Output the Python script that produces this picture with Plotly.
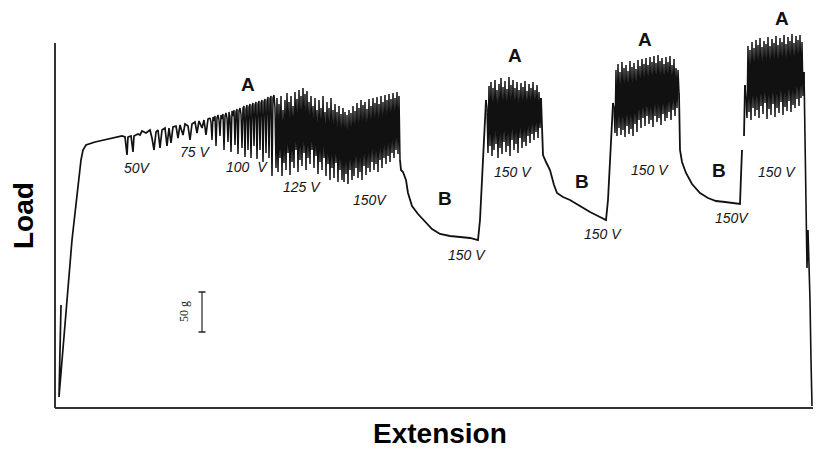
import plotly.graph_objects as go

# ---------------- data (extension, load) in arbitrary chart units ----------------
# initial loading and the 50 V - 75 V region (irregular sampling)
ext_start = [6, 4, 17, 22, 24, 26, 28, 31, 40, 55, 67,
             70, 72, 73, 76, 78, 79, 83, 85, 87, 91, 95, 97, 99, 101, 103, 105, 107, 110, 112, 114,
             116, 118, 121, 123, 125, 128, 130, 133, 135, 137, 140, 142, 144, 147, 149, 151, 153, 155]
load_start = [103, 11, 168, 213, 228, 248, 258, 263, 266, 269, 272,
              271, 253, 271, 272, 256, 272, 274, 273, 277, 275, 278, 270, 258, 276, 278, 260, 278, 280, 262, 280,
              265, 281, 282, 270, 283, 273, 284, 282, 268, 284, 286, 275, 287, 280, 288, 273, 289, 290]

# dense oscillation, one reading per extension unit, starting at extension 155
load_100v = [290, 286, 268, 291, 287, 292, 262, 290, 293, 288,
             272, 293, 289, 294, 258, 292, 295, 290, 266, 296,
             291, 256, 297, 292, 298, 263, 296, 299, 254, 297,
             300, 294, 260, 300, 302, 251, 299, 303, 258, 301,
             304, 250, 302, 305, 262, 303, 306, 249, 304, 307,
             258, 305, 308, 246, 306, 309, 255, 307, 311, 250,
             309, 312, 232, 310, 313]
load_125v = [300, 240, 310, 236, 304, 250, 312, 232, 298, 245,
             308, 238, 315, 255, 306, 233, 312, 246, 302, 240,
             316, 258, 309, 236, 318, 248, 312, 242, 320, 255,
             314, 238, 317, 250, 306, 244, 312, 258, 302, 240,
             310, 252, 298, 234, 308, 246, 300, 238, 312, 250,
             296, 232, 306, 244, 300, 228, 310, 240, 298, 230,
             304, 245, 296, 226, 302, 238, 294, 228]
load_150v = [300, 226, 296, 234, 293, 224, 298, 238, 295, 228,
             302, 232, 297, 240, 305, 230, 300, 236, 308, 228,
             303, 242, 306, 233, 299, 240, 309, 236, 302, 246,
             310, 238, 305, 244, 311, 236, 304, 248, 312, 240,
             306, 250, 313, 244, 308, 252, 314, 246, 309, 255,
             315, 250, 310, 258, 316, 254, 312, 248]
ramp_start = 155

# relaxation B1 and rise
ext_b1 = [345, 346, 348, 351, 353, 357, 363, 370, 377, 385, 395, 405, 415, 423, 425, 427, 428, 430, 431]
load_b1 = [248, 238, 236, 228, 215, 202, 194, 186, 179, 174, 172, 171, 170, 168, 188, 228, 253, 288, 308]

# A2 (starting at extension 431)
load_a2 = [308, 300, 255, 322, 262, 326, 252, 320, 258, 328,
           264, 318, 250, 324, 260, 330, 254, 321, 266, 327,
           256, 319, 262, 331, 252, 323, 268, 328, 258, 320,
           264, 326, 255, 318, 270, 325, 260, 321, 266, 327,
           262, 317, 272, 324, 265, 320, 274, 326, 268, 318,
           276, 323, 270, 316, 280, 310]
a2_start = 431

ext_b2 = [486, 488, 491, 495, 499, 502, 508, 515, 525, 535, 545, 551, 553, 555, 556, 558]
load_b2 = [310, 253, 246, 238, 223, 215, 211, 208, 202, 196, 191, 188, 208, 248, 278, 305]

# A3 (starting at extension 558)
load_a3 = [305, 300, 275, 338, 272, 344, 280, 336, 273, 346,
           278, 340, 271, 343, 282, 337, 274, 347, 279, 341,
           272, 345, 284, 339, 276, 348, 288, 342, 280, 349,
           290, 344, 282, 350, 292, 343, 284, 351, 288, 346,
           281, 352, 292, 345, 286, 353, 290, 347, 283, 350,
           294, 344, 287, 351, 290, 346, 296, 352, 288, 343,
           298, 349, 292, 340, 300, 338, 315]
a3_start = 558

# relaxation B3; the pen trace has a short break during the rise
ext_b3 = [624, 625, 627, 631, 637, 645, 653, 661, 670, 678, 685, 686, 687, 688, 689, 690]
load_b3 = [315, 258, 246, 235, 224, 215, 210, 207, 206, 205, 204, 232, 258, None, 272, 323]

# A4 (starting at extension 690)
load_a4 = [323, 300, 290, 362, 296, 358, 288, 366, 300, 360,
           292, 368, 298, 363, 290, 370, 302, 361, 294, 367,
           305, 364, 289, 371, 299, 362, 293, 369, 304, 365,
           291, 372, 300, 363, 295, 370, 306, 366, 293, 373,
           301, 364, 297, 371, 307, 367, 296, 374, 303, 365,
           300, 372, 309, 368, 302, 373, 310, 366, 312, 336]
a4_start = 690

ext_end = [749, 750, 751, 752, 753, 754, 755, 756, 757]
load_end = [336, 258, 178, 140, 178, 146, 108, 48, 2]

# scale bar: 50 g
scale_ext = [147, 147]
scale_load = [76, 116]

# labels
volt_labels = ["50V", "75 V", "100\u00a0\u00a0V", "125 V", "150V", "150 V",
               "150 V", "150 V", "150 V", "150V", "150 V"]
volt_x = [82, 140, 192, 247, 315, 412, 458, 548, 595, 677, 722]
volt_y = [240, 256, 241, 221, 208, 153, 236, 174, 238, 190, 236]

phase_labels = ["A", "B", "A", "B", "A", "B", "A"]
phase_x = [193, 390, 460, 527, 590, 664, 727]
phase_y = [323, 210, 353, 227, 369, 238, 390]

X_RANGE = [-2, 760]
Y_RANGE = [-2, 388]


def px(v):
    return (v - X_RANGE[0]) / (X_RANGE[1] - X_RANGE[0])


def py(v):
    return (v - Y_RANGE[0]) / (Y_RANGE[1] - Y_RANGE[0])


INK = "#111111"
BLOCK_W = 1.5
fig = go.Figure()
common = dict(mode="lines", hoverinfo="skip", showlegend=False, connectgaps=False)
fig.add_trace(go.Scatter(x=ext_start, y=load_start, line=dict(color=INK, width=1.7), **common))
fig.add_trace(go.Scatter(x0=ramp_start, dx=1, y=load_100v + load_125v + load_150v,
                         line=dict(color=INK, width=BLOCK_W), **common))
fig.add_trace(go.Scatter(x=ext_b1, y=load_b1, line=dict(color=INK, width=1.8), **common))
fig.add_trace(go.Scatter(x0=a2_start, dx=1, y=load_a2, line=dict(color=INK, width=BLOCK_W), **common))
fig.add_trace(go.Scatter(x=ext_b2, y=load_b2, line=dict(color=INK, width=1.8), **common))
fig.add_trace(go.Scatter(x0=a3_start, dx=1, y=load_a3, line=dict(color=INK, width=BLOCK_W), **common))
fig.add_trace(go.Scatter(x=ext_b3, y=load_b3, line=dict(color=INK, width=1.8), **common))
fig.add_trace(go.Scatter(x0=a4_start, dx=1, y=load_a4, line=dict(color=INK, width=BLOCK_W), **common))
fig.add_trace(go.Scatter(x=ext_end, y=load_end, line=dict(color=INK, width=1.6), **common))
fig.add_trace(go.Scatter(x=scale_ext, y=scale_load, mode="lines+markers", hoverinfo="skip",
                         showlegend=False, line=dict(color="#222222", width=1.2),
                         marker=dict(symbol="line-ew", size=5, line=dict(width=1.5, color="#222222"))))

ann_common = dict(xref="paper", yref="paper", showarrow=False, xanchor="center", yanchor="middle")
annotations = []
for t, x, y in zip(volt_labels, volt_x, volt_y):
    annotations.append(dict(x=px(x), y=py(y), text="<i>" + t + "</i>",
                            font=dict(family="Liberation Sans", size=14, color="#151515"), **ann_common))
for t, x, y in zip(phase_labels, phase_x, phase_y):
    annotations.append(dict(x=px(x), y=py(y), text="<b>" + t + "</b>",
                            font=dict(family="Liberation Sans", size=19, color="#111111"), **ann_common))
annotations.append(dict(x=px(129), y=py(96), text="50 g", textangle=-90,
                        font=dict(family="Liberation Serif", size=12, color="#222222"), **ann_common))
annotations.append(dict(x=px(-32), y=py(192), text="<b>Load</b>", textangle=-90,
                        font=dict(family="Liberation Sans", size=28, color="#000000"), **ann_common))
annotations.append(dict(x=px(385), y=py(-43), text="<b>Extension</b>",
                        xref="paper", yref="paper", showarrow=False, xanchor="center", yanchor="bottom",
                        font=dict(family="Liberation Sans", size=28, color="#000000")))

shapes = [
    dict(type="line", xref="x", yref="y", x0=0, y0=0, x1=0, y1=365,
         line=dict(color="#333333", width=2)),
    dict(type="line", xref="x", yref="y", x0=0, y0=0, x1=X_RANGE[1], y1=0,
         line=dict(color="#333333", width=2)),
]

# the page body adds an 8 px margin, so the figure is offset by 8 px
fig.update_layout(
    width=813, height=445,
    margin=dict(l=45, r=6, t=12, b=43),
    paper_bgcolor="white", plot_bgcolor="white",
    showlegend=False,
    xaxis=dict(range=X_RANGE, visible=False),
    yaxis=dict(range=Y_RANGE, visible=False),
    annotations=annotations, shapes=shapes,
)

fig.write_html("out.html")
